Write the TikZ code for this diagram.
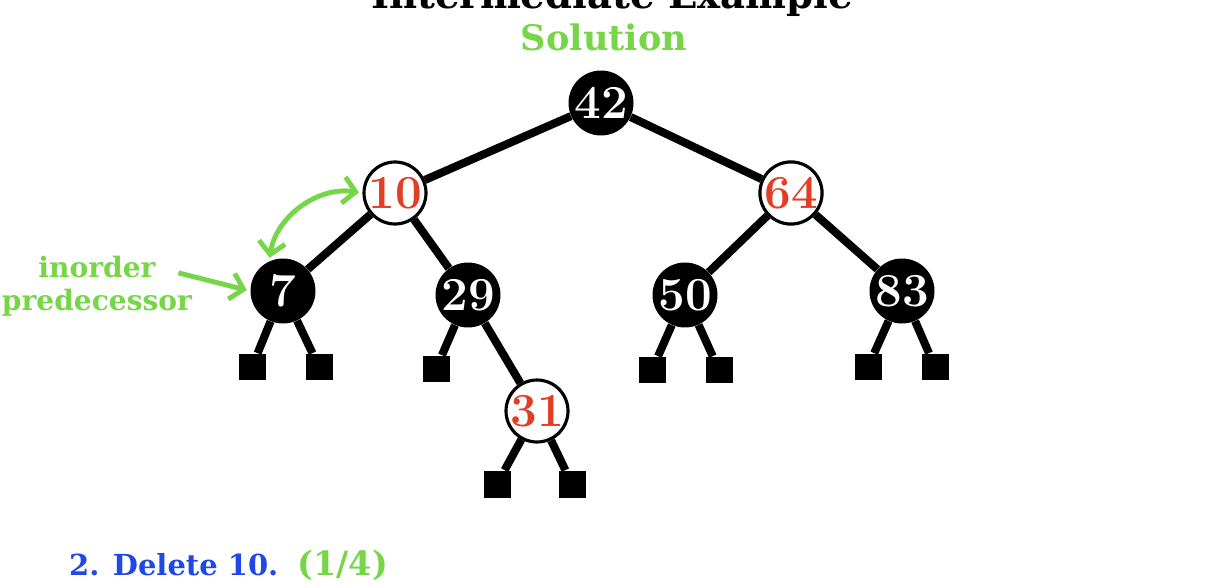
\documentclass[tikz,border=0pt]{standalone}
\usepackage{fontspec}
\usepackage{tikz}
\usetikzlibrary{
  arrows.meta,
  positioning
}
\newfontfamily\slabfont{DejaVu Serif}
\definecolor{solgreen}{RGB}{118,214,72}
\definecolor{keyred}{RGB}{226,62,38}
\definecolor{stepblue}{RGB}{32,72,228}
\tikzset{
  x=0.02cm, y=-0.02cm,
  numfont/.style={font=\fontsize{27}{27}\selectfont\bfseries},
  blacknode/.style={circle, fill=black, text=white, minimum size=1.3cm, inner sep=0pt, numfont},
  rednode/.style={circle, draw=black, line width=1.8pt, fill=white, text=keyred, minimum size=1.24cm, inner sep=0pt, numfont},
  leaf/.style={rectangle, fill=black, minimum size=0.54cm, inner sep=0pt},
  treeedge/.style={line width=4.6pt},
  hint/.style={solgreen, line width=2.8pt, shorten >=2pt, shorten <=2pt},
  hinttext/.style={solgreen, font=\slabfont\bfseries\fontsize{16}{19}\selectfont, align=center}
}

\begin{document}
\begin{tikzpicture}
    \useasboundingbox (0,0) rectangle (1224,588);

    % titles
    \node[font=\slabfont\bfseries\fontsize{22}{22}\selectfont] (title) at (612,-2) {Intermediate Example};
    \node[solgreen, font=\slabfont\bfseries\fontsize{20}{20}\selectfont] (sol) at (604,37) {Solution};

    % tree
    \node[blacknode] (n42) at (601,103) {42};
    \node[rednode] (n10) at (395,193) {10};
    \node[rednode] (n64) at (791,193) {64};
    \node[blacknode] (n7) at (283,291) {7};
    \node[blacknode] (n29) at (468,295) {29};
    \node[blacknode] (n50) at (685,295) {50};
    \node[blacknode] (n83) at (902,291) {83};
    \node[rednode] (n31) at (537,411) {31};

    \node[leaf] (l7a) at (252,367) {};
    \node[leaf] (l7b) at (319,367) {};
    \node[leaf] (l29) at (436,369) {};
    \node[leaf] (l50a) at (652,370) {};
    \node[leaf] (l50b) at (719,370) {};
    \node[leaf] (l83a) at (868,367) {};
    \node[leaf] (l83b) at (935,367) {};
    \node[leaf] (l31a) at (497,484) {};
    \node[leaf] (l31b) at (572,484) {};

    \draw[treeedge] (n42) -- (n10);
    \draw[treeedge] (n42) -- (n64);
    \draw[treeedge] (n10) -- (n7);
    \draw[treeedge] (n10) -- (n29);
    \draw[treeedge] (n64) -- (n50);
    \draw[treeedge] (n64) -- (n83);
    \draw[treeedge] (n29) -- (n31);

    \draw[treeedge] (n7) -- (l7a);
    \draw[treeedge] (n7) -- (l7b);
    \draw[treeedge] (n29) -- (l29);
    \draw[treeedge] (n50) -- (l50a);
    \draw[treeedge] (n50) -- (l50b);
    \draw[treeedge] (n83) -- (l83a);
    \draw[treeedge] (n83) -- (l83b);
    \draw[treeedge] (n31) -- (l31a);
    \draw[treeedge] (n31) -- (l31b);

    % hint
    \node[hinttext] (pred) at (97,286) {inorder\\predecessor};
    \coordinate (predarrow) at (175,272);
    \draw[hint, -{Straight Barb[length=7pt, width=15pt]}] (predarrow) -- (n7.west);
    \draw[hint, {Straight Barb[length=7pt, width=15pt]}-{Straight Barb[length=7pt, width=15pt]}]
        (n7.115) to[bend left=45] (n10.west);

    % step
    \node[stepblue, font=\slabfont\bfseries\fontsize{16.5}{16.5}\selectfont, anchor=west] (step) at (63,565) {2. Delete 10.};
    \node[solgreen, font=\slabfont\bfseries\fontsize{19}{19}\selectfont, right=4pt of step] (part) {(1/4)};
  \end{tikzpicture}
\end{document}
